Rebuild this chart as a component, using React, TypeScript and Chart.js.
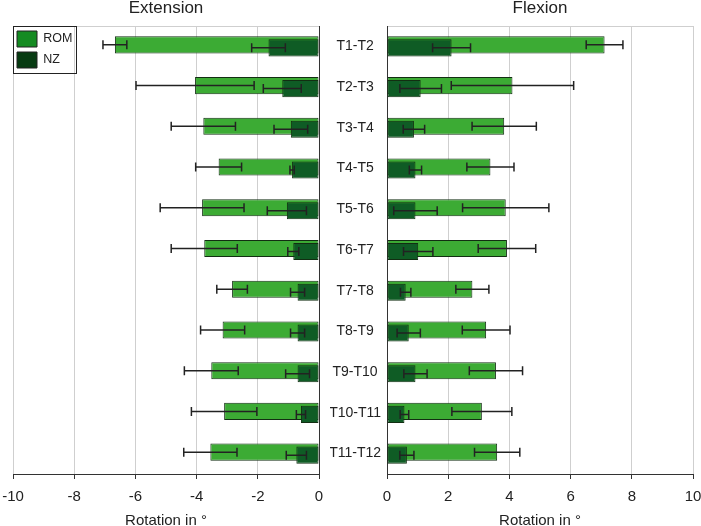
import React, { useEffect, useRef } from 'react';
import { Chart, registerables } from 'chart.js';

Chart.register(...registerables);

// ---------- data ----------
const categories = ['T1-T2', 'T2-T3', 'T3-T4', 'T4-T5', 'T5-T6', 'T6-T7', 'T7-T8', 'T8-T9', 'T9-T10', 'T10-T11', 'T11-T12'];

const extensionRom = [-6.67, -4.05, -3.78, -3.28, -3.82, -3.75, -2.84, -3.15, -3.52, -3.1, -3.55];
const extensionRomSd = [0.39, 1.93, 1.05, 0.75, 1.37, 1.08, 0.5, 0.72, 0.88, 1.07, 0.87];
const extensionNz = [-1.65, -1.2, -0.92, -0.88, -1.05, -0.84, -0.7, -0.7, -0.7, -0.59, -0.74];
const extensionNzSd = [0.55, 0.62, 0.55, 0.07, 0.64, 0.18, 0.23, 0.23, 0.39, 0.15, 0.33];

const flexionRom = [7.11, 4.1, 3.83, 3.38, 3.88, 3.92, 2.79, 3.24, 3.56, 3.1, 3.6];
const flexionRomSd = [0.6, 2.0, 1.05, 0.77, 1.41, 0.94, 0.54, 0.78, 0.87, 0.98, 0.74];
const flexionNz = [2.11, 1.1, 0.88, 0.93, 0.93, 1.02, 0.61, 0.71, 0.93, 0.57, 0.65];
const flexionNzSd = [0.62, 0.68, 0.35, 0.2, 0.71, 0.48, 0.17, 0.38, 0.38, 0.14, 0.23];

const seriesNames = ['ROM', 'NZ'];
const extensionTicks = [-10, -8, -6, -4, -2, 0];
const flexionTicks = [0, 2, 4, 6, 8, 10];
const panelTitles = ['Extension', 'Flexion'];
const axisTitle = 'Rotation in °';

// ---------- styles ----------
const FONT = "'Liberation Sans', Arial, Helvetica, sans-serif";
const TEXT = '#222222';
const ROM_FILL = '#3cab34';
const NZ_FILL = '#0f5c25';
const ROM_KEY = '#158b22';
const NZ_KEY = '#073b12';
const BAR_BORDER = '#122e12';
const AXIS = '#333333';
const GRID = '#cfcfcf';

function drawErrorBars(chart: any, index: number) {
  const ds = chart.data.datasets[index];
  const errs: number[] = ds.errorBars;
  if (!errs) return;
  const meta = chart.getDatasetMeta(index);
  const xs = chart.scales.x;
  const ctx = chart.ctx;
  ctx.save();
  ctx.strokeStyle = '#222222';
  ctx.lineWidth = 1.5;
  meta.data.forEach((el: any, i: number) => {
    const v = ds.data[i];
    const e = errs[i];
    const x1 = xs.getPixelForValue(v - e);
    const x2 = xs.getPixelForValue(v + e);
    const y = el.y;
    const cap = 4.5;
    ctx.beginPath();
    ctx.moveTo(x1, y);
    ctx.lineTo(x2, y);
    ctx.moveTo(x1, y - cap);
    ctx.lineTo(x1, y + cap);
    ctx.moveTo(x2, y - cap);
    ctx.lineTo(x2, y + cap);
    ctx.stroke();
  });
  ctx.restore();
}

// draw ROM first, then NZ on top, each followed by its error bars
const layeredBarsPlugin = {
  id: 'layeredBars',
  beforeDatasetsDraw(chart: any) {
    for (let i = 0; i < chart.data.datasets.length; i++) {
      const meta = chart.getDatasetMeta(i);
      meta.controller.draw();
      drawErrorBars(chart, i);
    }
    return false;
  },
};

// place the legend in the top-left corner of the plot and draw its frame
const legendBoxPlugin = {
  id: 'legendBox',
  afterLayout(chart: any) {
    const lg = chart.legend;
    if (!lg) return;
    const pad = lg.options.labels.padding;
    const ca = chart.chartArea;
    const dx = ca.left + 4 - pad - lg.left;
    const dy = ca.top - lg.top;
    lg.left += dx;
    lg.top += dy;
    lg.right = lg.left + lg.width + 40;
    lg.bottom = lg.top + lg.height;
  },
  afterDraw(chart: any) {
    const lg = chart.legend;
    if (!lg || !lg.legendHitBoxes || !lg.legendHitBoxes.length) return;
    const labels = lg.options.labels;
    const pad = labels.padding;
    const n = lg.legendHitBoxes.length;
    let maxW = 0;
    lg.legendHitBoxes.forEach((b: any) => {
      maxW = Math.max(maxW, b.width);
    });
    const ca = chart.chartArea;
    const w = 4 + maxW + 4;
    const h = pad + n * labels.boxHeight + (n - 1) * pad + pad;
    const ctx = chart.ctx;
    ctx.save();
    ctx.strokeStyle = '#222222';
    ctx.lineWidth = 1;
    ctx.strokeRect(Math.round(ca.left) + 0.5, Math.round(ca.top) + 0.5, Math.round(w), Math.round(h));
    ctx.restore();
  },
};

function buildConfig(
  side: 'left' | 'right',
  rom: number[],
  romSd: number[],
  nz: number[],
  nzSd: number[],
  ticks: number[],
  title: string
): any {
  const isLeft = side === 'left';
  const barCommon = {
    borderColor: BAR_BORDER,
    borderWidth: 1,
    borderSkipped: false,
    categoryPercentage: 0.148,
    barPercentage: 5.67,
  };
  return {
    type: 'bar',
    data: {
      labels: categories,
      datasets: [
        { label: seriesNames[0], data: rom, errorBars: romSd, backgroundColor: ROM_FILL, ...barCommon },
        { label: seriesNames[1], data: nz, errorBars: nzSd, backgroundColor: NZ_FILL, ...barCommon },
      ],
    },
    plugins: isLeft ? [layeredBarsPlugin, legendBoxPlugin] : [layeredBarsPlugin],
    options: {
      indexAxis: 'y',
      animation: false,
      responsive: false,
      maintainAspectRatio: false,
      layout: { padding: isLeft ? { left: 13, right: 11, top: 0, bottom: 0 } : { left: 0, right: 8, top: 0, bottom: 0 } },
      scales: {
        x: {
          type: 'linear',
          position: 'bottom',
          min: ticks[0],
          max: ticks[ticks.length - 1],
          afterBuildTicks: (scale: any) => {
            scale.ticks = ticks.map((v) => ({ value: v }));
          },
          afterFit: (scale: any) => {
            scale.height = 52;
            scale.paddingLeft = 0;
            scale.paddingRight = 0;
          },
          grid: { color: GRID, lineWidth: 1, tickColor: AXIS, tickLength: 5, drawTicks: true },
          border: { display: true, color: AXIS, width: 1 },
          ticks: { color: TEXT, font: { family: FONT, size: 15 }, padding: 9 },
          title: {
            display: true,
            text: axisTitle,
            color: TEXT,
            font: { family: FONT, size: 15, lineHeight: 1 },
            padding: { top: 0, bottom: -2 },
          },
        },
        xTop: {
          type: 'linear',
          position: 'top',
          min: ticks[0],
          max: ticks[ticks.length - 1],
          afterFit: (scale: any) => {
            scale.height = 0;
            scale.paddingLeft = 0;
            scale.paddingRight = 0;
          },
          grid: { color: 'rgba(0,0,0,0)', drawTicks: false },
          border: { display: true, color: GRID, width: 1 },
          ticks: { display: false },
        },
        y: {
          type: 'category',
          position: isLeft ? 'right' : 'left',
          afterFit: (scale: any) => {
            scale.width = isLeft ? 0 : 57;
          },
          grid: { color: 'rgba(0,0,0,0)', drawTicks: false },
          border: { display: true, color: AXIS, width: 1 },
          ticks: isLeft
            ? { display: false }
            : { display: true, crossAlign: 'center', padding: 6, color: TEXT, font: { family: FONT, size: 14 } },
        },
      },
      plugins: {
        title: {
          display: true,
          text: title,
          fullSize: false,
          color: TEXT,
          font: { family: FONT, size: 17, weight: 'normal', lineHeight: 1 },
          padding: { top: 0, bottom: 9 },
        },
        legend: isLeft
          ? {
              display: true,
              position: 'chartArea',
              align: 'start',
              labels: {
                boxWidth: 20,
                boxHeight: 16,
                padding: 5,
                color: TEXT,
                font: { family: FONT, size: 12.5 },
                generateLabels: (chart: any) =>
                  chart.data.datasets.map((ds: any, i: number) => ({
                    text: ds.label,
                    fillStyle: i === 0 ? ROM_KEY : NZ_KEY,
                    strokeStyle: '#222222',
                    lineWidth: 1,
                    hidden: false,
                    datasetIndex: i,
                    fontColor: TEXT,
                  })),
              },
            }
          : { display: false },
        tooltip: { enabled: false },
      },
    },
  };
}

export default function App() {
  const leftRef = useRef<HTMLCanvasElement | null>(null);
  const rightRef = useRef<HTMLCanvasElement | null>(null);

  useEffect(() => {
    const left = new Chart(
      leftRef.current as HTMLCanvasElement,
      buildConfig('left', extensionRom, extensionRomSd, extensionNz, extensionNzSd, extensionTicks, panelTitles[0])
    );
    const right = new Chart(
      rightRef.current as HTMLCanvasElement,
      buildConfig('right', flexionRom, flexionRomSd, flexionNz, flexionNzSd, flexionTicks, panelTitles[1])
    );
    return () => {
      left.destroy();
      right.destroy();
    };
  }, []);

  return (
    <div style={{ position: 'fixed', left: 0, top: 0, width: 701, height: 526, background: '#ffffff', overflow: 'hidden' }}>
      <canvas ref={leftRef} width={330} height={526} style={{ position: 'absolute', left: 0, top: 0, width: 330, height: 526 }} />
      <canvas ref={rightRef} width={371} height={526} style={{ position: 'absolute', left: 330, top: 0, width: 371, height: 526 }} />
    </div>
  );
}
